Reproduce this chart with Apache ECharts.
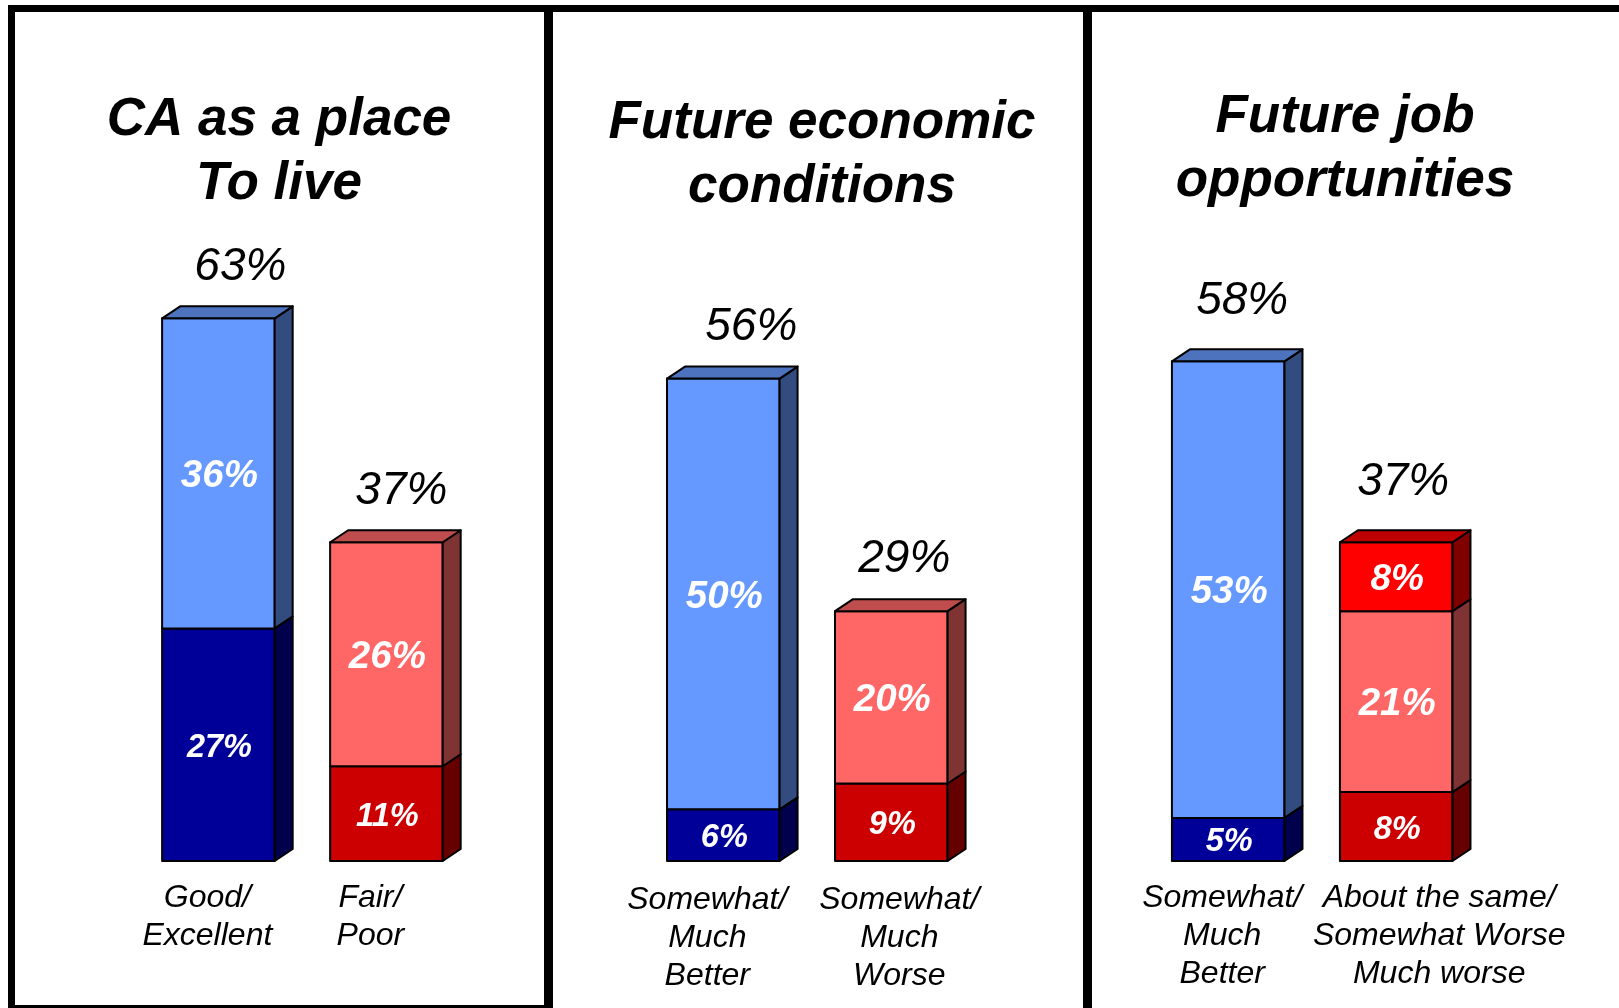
<!DOCTYPE html>
<html>
<head>
<meta charset="utf-8">
<script src="https://cdn.jsdelivr.net/npm/echarts@6/dist/echarts.min.js"></script>
<style>
  html, body { margin: 0; padding: 0; background: #fff; }
  #chart { width: 1619px; height: 1008px; }
</style>
</head>
<body>
<div id="chart"></div>
<script>
// Panel titles
const titles = ['CA as a place\nTo live', 'Future economic\nconditions', 'Future job\nopportunities'];

// Bar categories for each panel
const categories = [
  ['Good/\nExcellent', 'Fair/\nPoor'],
  ['Somewhat/\nMuch\nBetter', 'Somewhat/\nMuch\nWorse'],
  ['Somewhat/\nMuch\nBetter', 'About the same/\nSomewhat Worse\nMuch worse']
];

// Stacked segments (%), bottom to top, one inner list per bar
const placeToLive = [[27, 36], [11, 26]];
const economicConditions = [[6, 50], [9, 20]];
const jobOpportunities = [[5, 53], [8, 21, 8]];

// Totals shown above each bar
const totals = [[63, 37], [56, 29], [58, 37]];

const panels = [placeToLive, economicConditions, jobOpportunities];

// ---- styling / layout ----
const FONT = '"Liberation Sans", Arial, Helvetica, sans-serif';
const palette = {
  blue: { front: ['#000099', '#6699FF'], side: ['#00004D', '#334C80'], top: ['#00007A', '#4D73BF'] },
  red:  { front: ['#CC0000', '#FF6666', '#FF0000'], side: ['#660000', '#803333', '#800000'], top: ['#990000', '#BF4D4D', '#BF0000'] }
};
const schemes = ['blue', 'red'];
const innerFont = [32.5, 38.5, 37];
const gridLefts = [134.4, 639.3, 1144.2];
const titleCenters = [279, 822, 1345];
const titleTops = [88, 91, 85];
const totalNudgeX = [[22, 15], [28, 13], [14, 7]];
const totalGap = [24, 24.5, 33];
const catNudgeX = [[-11, -16], [-16, 8], [-6, 43]];
const catTop = [18.5, 20.5, 18];

const BAR_RATIO = 0.67, DEPTH_X = 18, DEPTH_Y = 12;

function segmentItems(bars) {
  const items = [];
  bars.forEach((segs, cat) => {
    let acc = 0;
    segs.forEach((v, i) => {
      items.push([cat, acc, acc + v, i, i === segs.length - 1 ? 1 : 0, v]);
      acc += v;
    });
  });
  return items;
}

function makeRender(p) {
  return function (params, api) {
    const cat = api.value(0), lo = api.value(1), hi = api.value(2);
    const seg = api.value(3), isTop = api.value(4), val = api.value(5);
    const base = api.coord([cat, lo]);
    const tip = api.coord([cat, hi]);
    const band = api.size([1, 0])[0];
    const w = band * BAR_RATIO;
    const x0 = base[0] - w / 2, x1 = x0 + w;
    const yb = base[1], yt = tip[1];
    const pal = palette[schemes[cat]];
    const stroke = { stroke: '#000', lineWidth: 2, lineJoin: 'round' };
    const children = [
      { type: 'rect', shape: { x: x0, y: yt, width: w, height: yb - yt },
        style: Object.assign({ fill: pal.front[seg] }, stroke) },
      { type: 'polygon', shape: { points: [[x1, yb], [x1 + DEPTH_X, yb - DEPTH_Y], [x1 + DEPTH_X, yt - DEPTH_Y], [x1, yt]] },
        style: Object.assign({ fill: pal.side[seg] }, stroke) }
    ];
    if (isTop) {
      children.push({ type: 'polygon',
        shape: { points: [[x0, yt], [x0 + DEPTH_X, yt - DEPTH_Y], [x1 + DEPTH_X, yt - DEPTH_Y], [x1, yt]] },
        style: Object.assign({ fill: pal.top[seg] }, stroke) });
      const fs = 46;
      children.push({ type: 'text', x: base[0] + totalNudgeX[p][cat], y: yt - DEPTH_Y - totalGap[p] - 0.33 * fs,
        style: { text: totals[p][cat] + '%', fill: '#000', fontFamily: FONT, fontStyle: 'italic',
          fontSize: fs, align: 'center', verticalAlign: 'middle' } });
    }
    children.push({ type: 'text', x: base[0] + 1, y: (yb + yt) / 2 + 3,
      style: { text: val + '%', fill: '#fff', fontFamily: FONT, fontStyle: 'italic', fontWeight: 'bold',
        fontSize: innerFont[seg], align: 'center', verticalAlign: 'middle' } });
    if (lo === 0) {
      children.push({ type: 'text', x: base[0] + catNudgeX[p][cat], y: yb + catTop[p],
        style: { text: categories[p][cat], fill: '#000', fontFamily: FONT, fontStyle: 'italic',
          fontSize: 32, lineHeight: 38, align: 'center', verticalAlign: 'top' } });
    }
    return { type: 'group', children };
  };
}

const chart = echarts.init(document.getElementById('chart'), null, { renderer: 'canvas' });

const option = {
  animation: false,
  backgroundColor: '#fff',
  title: titles.map((t, i) => ({
    text: t, left: titleCenters[i], top: titleTops[i], textAlign: 'center', padding: 0,
    textStyle: { fontFamily: FONT, fontSize: 53, fontWeight: 'bold', fontStyle: 'italic', color: '#000', lineHeight: 64 }
  })),
  grid: gridLefts.map(l => ({ left: l, width: 336, top: 258, height: 603 })),
  xAxis: panels.map((_, i) => ({ type: 'category', gridIndex: i, data: categories[i], show: false })),
  yAxis: panels.map((_, i) => ({ type: 'value', gridIndex: i, min: 0, max: 70, show: false })),
  series: panels.map((bars, i) => ({
    type: 'custom', xAxisIndex: i, yAxisIndex: i, clip: false,
    renderItem: makeRender(i), data: segmentItems(bars)
  })),
  graphic: [
    { type: 'rect', shape: { x: 8, y: 5, width: 1611, height: 7 }, style: { fill: '#000' } },
    { type: 'rect', shape: { x: 8, y: 5, width: 7, height: 1003 }, style: { fill: '#000' } },
    { type: 'rect', shape: { x: 544, y: 5, width: 9, height: 1003 }, style: { fill: '#000' } },
    { type: 'rect', shape: { x: 1083, y: 5, width: 9, height: 1003 }, style: { fill: '#000' } },
    { type: 'rect', shape: { x: 8, y: 1005, width: 545, height: 3 }, style: { fill: '#000' } }
  ]
};

chart.setOption(option);
</script>
</body>
</html>
